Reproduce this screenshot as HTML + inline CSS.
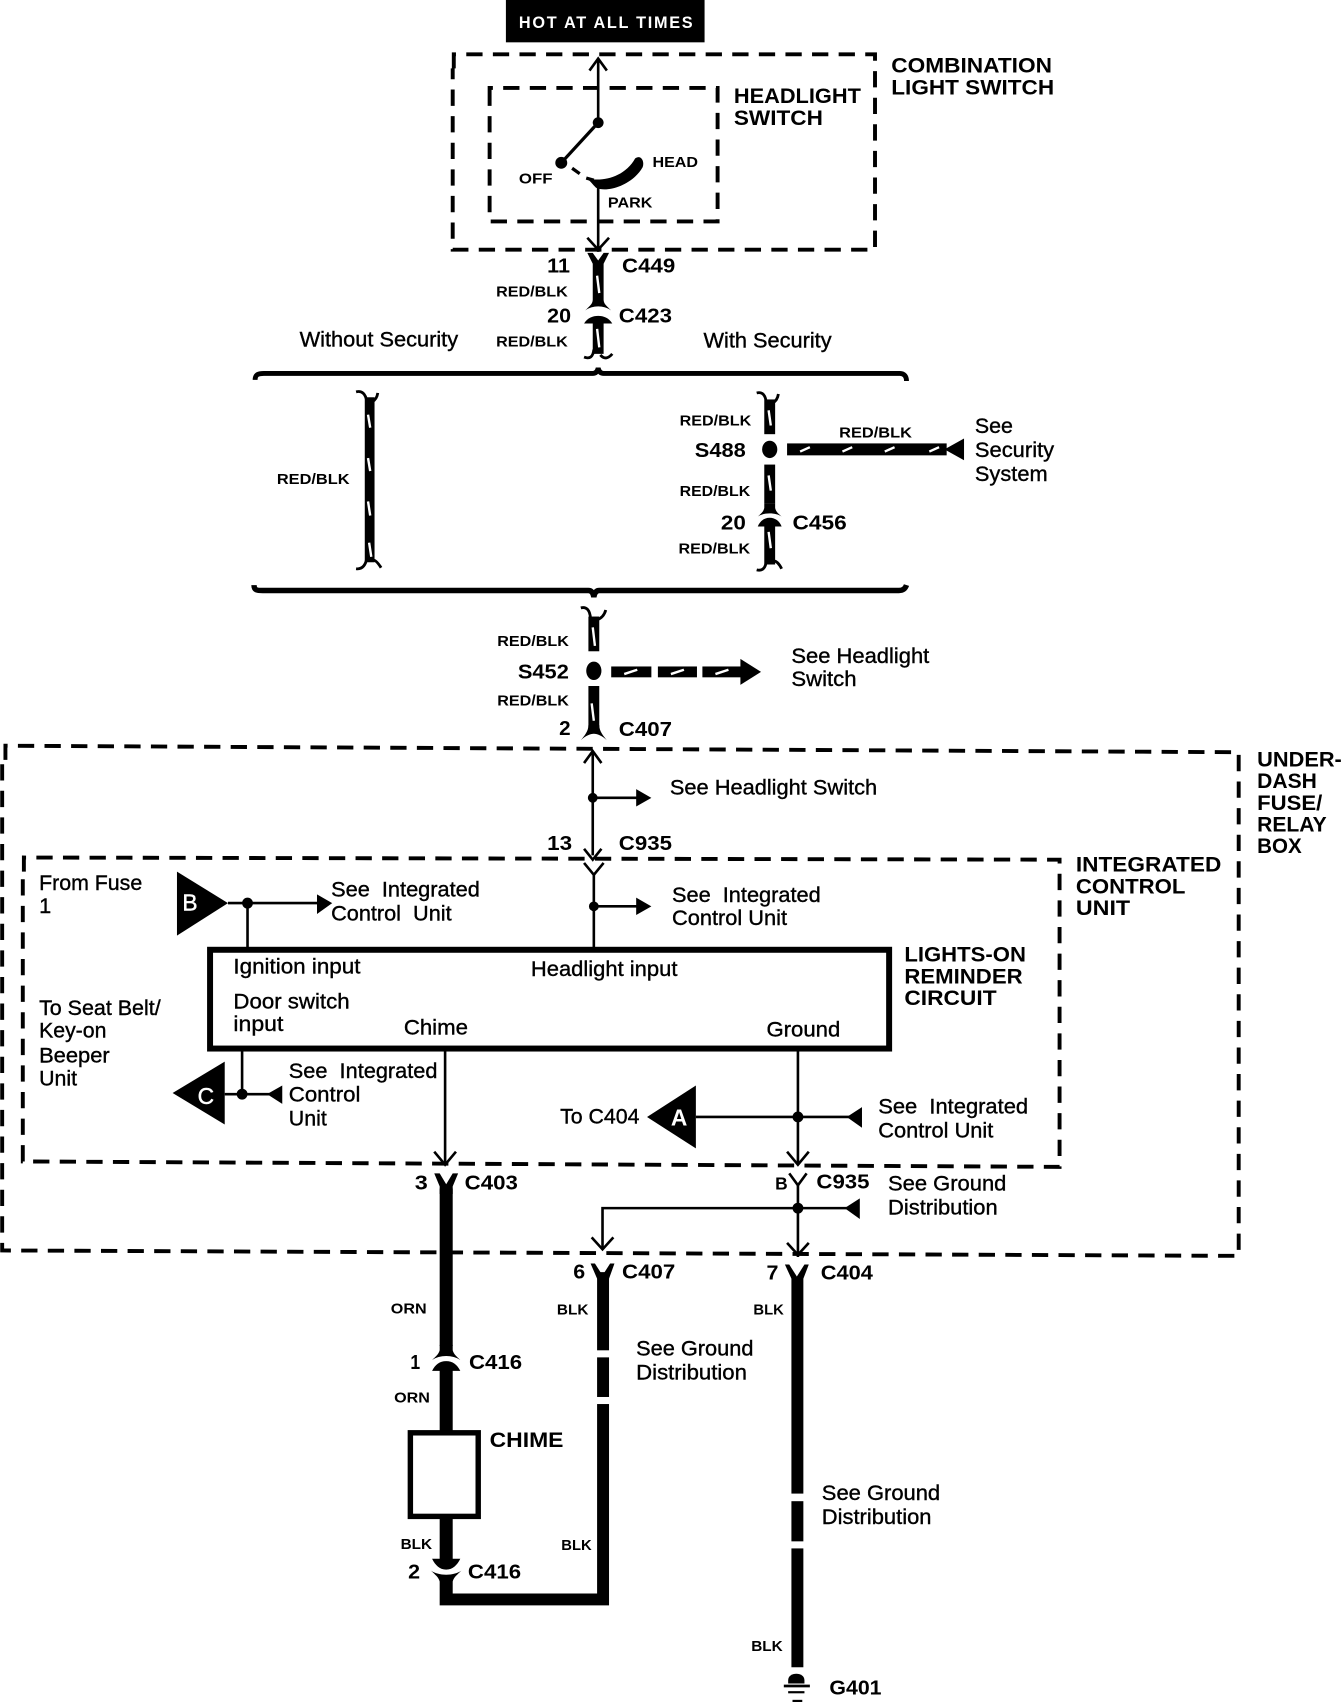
<!DOCTYPE html>
<html><head><meta charset="utf-8"><style>
html,body{margin:0;padding:0;background:#fff}
svg{display:block}
text{font-family:"Liberation Sans",sans-serif;fill:#000}
.r{font-size:20px;stroke:#000;stroke-width:.35}
.b{font-size:20px;font-weight:bold}
.s{font-size:14px;font-weight:bold}
.n{font-size:19px;font-weight:bold}
</style></head><body>
<svg xmlns="http://www.w3.org/2000/svg" width="1344" height="1702" viewBox="0 0 1238 1568" preserveAspectRatio="none">
<rect width="1238" height="1568" fill="#fff"/>
<rect x="466" y="0" width="183" height="39"/>
<text x="478" y="26" style="fill:#fff" font-size="15" font-weight="bold" textLength="160" lengthAdjust="spacing">HOT AT ALL TIMES</text>

<g fill="none" stroke="#000" stroke-width="3.6" stroke-dasharray="15 9.5">
<path d="M418,63 V50 H806 V230 H417 V63"/>
<path d="M451,93 V81 H661 V204 H451 V93"/>
<path d="M5,700 V687 L1141,693 V1157 L2,1152 V700"/>
<path d="M22,803 V790 L976,792 V1075 L21,1070 V803"/>
</g>

<g fill="none" stroke="#000" stroke-width="2.4">
<path d="M551,54 V113"/><path d="M543,65 L551,54 L559,65"/>
<path d="M551,113 L517,150" stroke-width="3"/>
<path d="M527,155 L534,160 M540,164 L547,166" stroke-width="3"/>
<path d="M551,168 V232"/><path d="M541,219 L551,230 L561,219"/>
<path d="M546,692 V788"/><path d="M538,703 L546,692 L554,703"/><path d="M538,782 L546,792 L554,782"/>
<path d="M538,795 L547,806 L556,795"/><path d="M547,806 V873"/>
<path d="M546,735 H588"/><path d="M547,835 H588"/>
<path d="M210,832 H292"/><path d="M228,832 V873"/>
<path d="M223,968 V1008"/><path d="M207,1008 H250"/>
<path d="M410,968 V1072"/><path d="M400,1061 L410,1073 L420,1061"/>
<path d="M735,968 V1072"/><path d="M725,1061 L735,1073 L745,1061"/>
<path d="M641,1029 H785"/>
<path d="M727,1081 L735,1092 L743,1081"/><path d="M735,1092 V1158"/>
<path d="M725,1145 L735,1156 L745,1145"/>
<path d="M555,1150 V1113 H785"/><path d="M545,1140 L555,1151 L565,1140"/>
</g>
<circle cx="551" cy="113" r="5"/><circle cx="517" cy="150" r="5.5"/>
<circle cx="546" cy="735" r="4.5"/><circle cx="547" cy="835" r="4.5"/>
<circle cx="228" cy="832" r="5"/><circle cx="223" cy="1008" r="5"/>
<circle cx="735" cy="1029" r="5"/><circle cx="735" cy="1113" r="5"/>
<path d="M540,164 C553,168 575,164 585,146 C590,142 594,148 592,154 C583,170 560,178 549,173 C546,170 544,167 540,164Z"/>

<!-- small arrowheads -->
<path d="M586,727 L600,735 L586,743Z M586,827 L600,835 L586,843Z M292,824 L306,832 L292,842Z"/>
<path d="M260,1000 L246,1008 L260,1017Z M794,1020 L780,1029 L794,1039Z M792,1104 L778,1113 L792,1123Z"/>

<!-- triangles -->
<path d="M163,803 L210,832 L163,862Z"/>
<path d="M159,1007 L207,978 V1036Z"/>
<path d="M596,1029 L641,1000 V1058Z"/>
<text x="168" y="839" font-size="21" style="fill:#fff;stroke:#fff;stroke-width:.4">B</text>
<text x="182" y="1017" font-size="21" style="fill:#fff;stroke:#fff;stroke-width:.4">C</text>
<text x="618" y="1037" font-size="21" font-weight="bold" style="fill:#fff">A</text>

<!-- braces -->
<path d="M235,350 C235,345 238,344 243,344 H546 Q550,344 551,339 Q552,344 556,344 H829 C833,344 835,347 835,351" fill="none" stroke="#000" stroke-width="4.5"/>
<path d="M234,539 C234,544 237,544 242,544 H542 Q546,544 547,550 Q548,544 552,544 H828 C832,544 834,542 835,539" fill="none" stroke="#000" stroke-width="5"/>

<!-- red/blk wires -->
<g fill="#000">
<path d="M541,233 H546 L551,240 L556,233 H561 L556,243 V276 C556,280 559,282 563,286 C556,281 546,281 539,286 C543,282 546,280 546,276 V243Z"/>
<path d="M551,291 C556,291 561,293 564,298 H556 V326 H546 V298 H538 C541,293 546,291 551,291Z"/>

<rect x="336" y="366" width="9" height="152"/>
<rect x="704" y="368" width="10" height="32"/>
<rect x="704" y="428" width="10" height="36"/>
<path transform="translate(709,472)" d="M-5,-8 H5 V-4 C6,0 8,1 11,4 C6,0 -6,0 -11,4 C-8,1 -6,0 -5,-4Z"/>
<path d="M709,477 C714,477 718,480 720,485 H714 V520 H704 V485 H698 C700,480 704,477 709,477Z"/>
<rect x="542" y="568" width="10" height="32"/>
<rect x="542" y="632" width="10" height="40"/>
<path d="M542,668 H552 C552,674 556,678 559,682 C555,678 550,676 547,676 C544,676 539,678 535,682 C538,678 542,674 542,668Z"/>
<ellipse cx="709" cy="414" rx="7" ry="8"/>
<ellipse cx="547" cy="618" rx="7" ry="8.500"/>
<rect x="725" y="408.500" width="147" height="11"/>
<path d="M888,404 V424 L870,414Z"/>
<rect x="563" y="614" width="37" height="10"/><rect x="606" y="614" width="36" height="10"/>
<rect x="647" y="614" width="36" height="10"/><path d="M682,607 L701,619 L682,631Z"/>

<!-- lower wires -->
<path d="M400,1081 H405 L411,1091 L417,1081 H422 L417,1093 V1100 H405 V1093Z"/>
<rect x="405" y="1095" width="12" height="145"/>
<path transform="translate(411,1248)" d="M-6,-9 H6 V-4 C7,0 10,2 13,5 C6,0 -6,0 -13,5 C-10,2 -7,0 -6,-4Z"/>
<path d="M411,1254 C417,1254 421,1257 424,1263 H417 V1318 H405 V1263 H398 C401,1257 405,1254 411,1254Z"/>
<path d="M405,1398 H417 V1436 H424 C421,1442 417,1446 411,1446 C405,1446 401,1442 398,1436 H405Z"/>
<path d="M397,1447 C404,1452 418,1452 425,1447 C421,1451 418,1453 417,1457 V1468 H550 V1172 H561 V1479 H405 V1457 C404,1453 401,1451 397,1447Z"/>
<path d="M544,1164 H548 L555,1175 L562,1164 H566 L561,1178 H550Z"/>
<rect x="549" y="1244" width="13" height="6.500" fill="#fff"/><rect x="549" y="1287" width="13" height="6.500" fill="#fff"/>
<path d="M723,1165 H727 L734,1176 L741,1165 H745 L740,1178 H729Z"/>
<rect x="729" y="1176" width="11" height="360"/>
<rect x="727" y="1376" width="15" height="7" fill="#fff"/><rect x="727" y="1420" width="15" height="6.500" fill="#fff"/>
<path d="M726,1551 V1548 C726,1540 741,1540 741,1548 V1551Z"/>
<rect x="722" y="1552" width="24" height="2.500"/><rect x="726" y="1558" width="15" height="2"/><rect x="730" y="1566" width="9" height="2"/>
</g>
<!-- curly breaks -->
<g fill="none" stroke="#000" stroke-width="2.6">
<path d="M538,329 Q546,332 547,322 M564,326 Q558,333 553,327"/>
<path d="M328,361 Q336,359 338,370 M348,362 Q347,368 343,370"/>
<path d="M328,524 Q336,525 338,514 M351,523 Q346,515 343,516"/>
<path d="M697,362 Q705,360 706,372 M717,363 Q716,369 712,371"/>
<path d="M697,525 Q705,527 706,516 M720,524 Q716,516 712,517"/>
<path d="M535,560 Q543,558 544,570 M558,562 Q556,569 550,571"/>
</g>
<!-- tracer dashes -->
<g stroke="#fff" stroke-width="2.2" fill="none">
<path d="M550,254 L552,270 M550,303 L552,320"/>
<path d="M339,382 L341,394 M339,422 L341,434 M339,462 L341,475 M340,500 L342,513"/>
<path d="M708,378 L710,392 M708,438 L710,452 M708,490 L710,505"/>
<path d="M546,578 L548,595 M545,648 L547,664"/>
<path d="M737,416 L746,412 M776,416 L785,412 M815,416 L824,412 M856,416 L865,412"/>
<path d="M575,621 L587,617 M618,621 L630,617 M659,621 L671,617"/>
</g>

<!-- boxes -->
<rect x="193.500" y="875" width="625.500" height="91" fill="none" stroke="#000" stroke-width="5.500"/>
<rect x="378" y="1320" width="62.500" height="77" fill="none" stroke="#000" stroke-width="5"/>

<!-- bold labels -->
<g class="b">
<text x="821" y="67" class="b" textLength="148" lengthAdjust="spacingAndGlyphs">COMBINATION</text>
<text x="821" y="87" class="b" textLength="150" lengthAdjust="spacingAndGlyphs">LIGHT SWITCH</text>
<text x="676" y="95" class="b" textLength="117" lengthAdjust="spacingAndGlyphs">HEADLIGHT</text>
<text x="676" y="115" class="b" textLength="82" lengthAdjust="spacingAndGlyphs">SWITCH</text>
<text x="1158" y="706" class="b" textLength="78" lengthAdjust="spacingAndGlyphs">UNDER-</text>
<text x="1158" y="726" class="b" textLength="55" lengthAdjust="spacingAndGlyphs">DASH</text>
<text x="1158" y="746" class="b" textLength="60" lengthAdjust="spacingAndGlyphs">FUSE/</text>
<text x="1158" y="766" class="b" textLength="64" lengthAdjust="spacingAndGlyphs">RELAY</text>
<text x="1158" y="786" class="b" textLength="41" lengthAdjust="spacingAndGlyphs">BOX</text>
<text x="991" y="803" class="b" textLength="134" lengthAdjust="spacingAndGlyphs">INTEGRATED</text>
<text x="991" y="823" class="b" textLength="101" lengthAdjust="spacingAndGlyphs">CONTROL</text>
<text x="991" y="843" class="b" textLength="50" lengthAdjust="spacingAndGlyphs">UNIT</text>
<text x="833" y="886" class="b" textLength="112" lengthAdjust="spacingAndGlyphs">LIGHTS-ON</text>
<text x="833" y="906" class="b" textLength="109" lengthAdjust="spacingAndGlyphs">REMINDER</text>
<text x="833" y="926" class="b" textLength="85" lengthAdjust="spacingAndGlyphs">CIRCUIT</text>
<text x="451" y="1333" class="b" textLength="68" lengthAdjust="spacingAndGlyphs">CHIME</text>
</g>

<!-- small bold -->
<text x="478" y="169" class="s" textLength="31" lengthAdjust="spacingAndGlyphs">OFF</text>
<text x="601" y="154" class="s" textLength="42" lengthAdjust="spacingAndGlyphs">HEAD</text>
<text x="560" y="191" class="s" textLength="41" lengthAdjust="spacingAndGlyphs">PARK</text>
<g class="s">
<text x="457" y="273" class="s" textLength="66" lengthAdjust="spacingAndGlyphs">RED/BLK</text>
<text x="457" y="319" class="s" textLength="66" lengthAdjust="spacingAndGlyphs">RED/BLK</text>
<text x="255" y="446" class="s" textLength="67" lengthAdjust="spacingAndGlyphs">RED/BLK</text>
<text x="626" y="392" class="s" textLength="66" lengthAdjust="spacingAndGlyphs">RED/BLK</text>
<text x="626" y="457" class="s" textLength="65" lengthAdjust="spacingAndGlyphs">RED/BLK</text>
<text x="625" y="510" class="s" textLength="66" lengthAdjust="spacingAndGlyphs">RED/BLK</text>
<text x="773" y="403" class="s" textLength="67" lengthAdjust="spacingAndGlyphs">RED/BLK</text>
<text x="458" y="595" class="s" textLength="66" lengthAdjust="spacingAndGlyphs">RED/BLK</text>
<text x="458" y="650" class="s" textLength="66" lengthAdjust="spacingAndGlyphs">RED/BLK</text>
<text x="360" y="1210" class="s" textLength="33" lengthAdjust="spacingAndGlyphs">ORN</text>
<text x="363" y="1292" class="s" textLength="33" lengthAdjust="spacingAndGlyphs">ORN</text>
<text x="513" y="1211" class="s" textLength="29" lengthAdjust="spacingAndGlyphs">BLK</text>
<text x="694" y="1211" class="s" textLength="28" lengthAdjust="spacingAndGlyphs">BLK</text>
<text x="369" y="1427" class="s" textLength="29" lengthAdjust="spacingAndGlyphs">BLK</text>
<text x="517" y="1428" class="s" textLength="28" lengthAdjust="spacingAndGlyphs">BLK</text>
<text x="692" y="1521" class="s" textLength="29" lengthAdjust="spacingAndGlyphs">BLK</text>
</g>

<!-- numbers & connector ids -->
<g>
<text x="504" y="251" class="n" textLength="21" lengthAdjust="spacingAndGlyphs">11</text>
<text x="573" y="251" class="n" textLength="49" lengthAdjust="spacingAndGlyphs">C449</text>
<text x="504" y="297" class="n" textLength="22" lengthAdjust="spacingAndGlyphs">20</text>
<text x="570" y="297" class="n" textLength="49" lengthAdjust="spacingAndGlyphs">C423</text>
<text x="640" y="421" class="n" textLength="47" lengthAdjust="spacingAndGlyphs">S488</text>
<text x="664" y="488" class="n" textLength="23" lengthAdjust="spacingAndGlyphs">20</text>
<text x="730" y="488" class="n" textLength="50" lengthAdjust="spacingAndGlyphs">C456</text>
<text x="477" y="625" class="n" textLength="47" lengthAdjust="spacingAndGlyphs">S452</text>
<text x="515" y="677" class="n">2</text>
<text x="570" y="678" class="n" textLength="49" lengthAdjust="spacingAndGlyphs">C407</text>
<text x="504" y="783" class="n" textLength="23" lengthAdjust="spacingAndGlyphs">13</text>
<text x="570" y="783" class="n" textLength="49" lengthAdjust="spacingAndGlyphs">C935</text>
<text x="382" y="1096" class="n" textLength="12" lengthAdjust="spacingAndGlyphs">3</text>
<text x="428" y="1096" class="n" textLength="49" lengthAdjust="spacingAndGlyphs">C403</text>
<text x="714" y="1096" font-size="16" font-weight="bold">B</text>
<text x="752" y="1095" class="n" textLength="49" lengthAdjust="spacingAndGlyphs">C935</text>
<text x="528" y="1178" class="n" textLength="11" lengthAdjust="spacingAndGlyphs">6</text>
<text x="573" y="1178" class="n" textLength="49" lengthAdjust="spacingAndGlyphs">C407</text>
<text x="706" y="1179" class="n" textLength="11" lengthAdjust="spacingAndGlyphs">7</text>
<text x="756" y="1179" class="n" textLength="48" lengthAdjust="spacingAndGlyphs">C404</text>
<text x="378" y="1261" class="n" textLength="9" lengthAdjust="spacingAndGlyphs">1</text>
<text x="432" y="1261" class="n" textLength="49" lengthAdjust="spacingAndGlyphs">C416</text>
<text x="376" y="1454" class="n" textLength="11" lengthAdjust="spacingAndGlyphs">2</text>
<text x="431" y="1454" class="n" textLength="49" lengthAdjust="spacingAndGlyphs">C416</text>
<text x="764" y="1561" class="n" textLength="48" lengthAdjust="spacingAndGlyphs">G401</text>
</g>

<!-- regular labels -->
<text x="276" y="319" class="r" textLength="146" lengthAdjust="spacingAndGlyphs">Without Security</text>
<text x="648" y="320" class="r" textLength="118" lengthAdjust="spacingAndGlyphs">With Security</text>
<text x="898" y="399" class="r" textLength="35" lengthAdjust="spacingAndGlyphs">See</text>
<text x="898" y="421" class="r" textLength="73" lengthAdjust="spacingAndGlyphs">Security</text>
<text x="898" y="443" class="r" textLength="67" lengthAdjust="spacingAndGlyphs">System</text>
<text x="729" y="611" class="r" textLength="127" lengthAdjust="spacingAndGlyphs">See Headlight</text>
<text x="729" y="632" class="r" textLength="60" lengthAdjust="spacingAndGlyphs">Switch</text>
<text x="617" y="732" class="r" textLength="191" lengthAdjust="spacingAndGlyphs">See Headlight Switch</text>
<text x="36" y="820" class="r" textLength="95" lengthAdjust="spacingAndGlyphs">From Fuse</text>
<text x="36" y="841" class="r">1</text>
<text x="305" y="826" class="r" textLength="137" lengthAdjust="spacingAndGlyphs" xml:space="preserve">See  Integrated</text>
<text x="305" y="848" class="r" textLength="111" lengthAdjust="spacingAndGlyphs" xml:space="preserve">Control  Unit</text>
<text x="619" y="831" class="r" textLength="137" lengthAdjust="spacingAndGlyphs" xml:space="preserve">See  Integrated</text>
<text x="619" y="852" class="r" textLength="106" lengthAdjust="spacingAndGlyphs">Control Unit</text>
<text x="215" y="897" class="r" textLength="117" lengthAdjust="spacingAndGlyphs">Ignition input</text>
<text x="489" y="899" class="r" textLength="135" lengthAdjust="spacingAndGlyphs">Headlight input</text>
<text x="215" y="929" class="r" textLength="107" lengthAdjust="spacingAndGlyphs">Door switch</text>
<text x="215" y="950" class="r" textLength="46" lengthAdjust="spacingAndGlyphs">input</text>
<text x="372" y="953" class="r" textLength="59" lengthAdjust="spacingAndGlyphs">Chime</text>
<text x="706" y="955" class="r" textLength="68" lengthAdjust="spacingAndGlyphs">Ground</text>
<text x="36" y="935" class="r" textLength="112" lengthAdjust="spacingAndGlyphs">To Seat Belt/</text>
<text x="36" y="956" class="r" textLength="62" lengthAdjust="spacingAndGlyphs">Key-on</text>
<text x="36" y="979" class="r" textLength="65" lengthAdjust="spacingAndGlyphs">Beeper</text>
<text x="36" y="1000" class="r" textLength="35" lengthAdjust="spacingAndGlyphs">Unit</text>
<text x="266" y="993" class="r" textLength="137" lengthAdjust="spacingAndGlyphs" xml:space="preserve">See  Integrated</text>
<text x="266" y="1015" class="r" textLength="66" lengthAdjust="spacingAndGlyphs">Control</text>
<text x="266" y="1037" class="r" textLength="35" lengthAdjust="spacingAndGlyphs">Unit</text>
<text x="516" y="1035" class="r" textLength="73" lengthAdjust="spacingAndGlyphs">To C404</text>
<text x="809" y="1026" class="r" textLength="138" lengthAdjust="spacingAndGlyphs" xml:space="preserve">See  Integrated</text>
<text x="809" y="1048" class="r" textLength="106" lengthAdjust="spacingAndGlyphs">Control Unit</text>
<text x="818" y="1097" class="r" textLength="109" lengthAdjust="spacingAndGlyphs">See Ground</text>
<text x="818" y="1119" class="r" textLength="101" lengthAdjust="spacingAndGlyphs">Distribution</text>
<text x="586" y="1249" class="r" textLength="108" lengthAdjust="spacingAndGlyphs">See Ground</text>
<text x="586" y="1271" class="r" textLength="102" lengthAdjust="spacingAndGlyphs">Distribution</text>
<text x="757" y="1382" class="r" textLength="109" lengthAdjust="spacingAndGlyphs">See Ground</text>
<text x="757" y="1404" class="r" textLength="101" lengthAdjust="spacingAndGlyphs">Distribution</text>
</svg>
</body></html>
